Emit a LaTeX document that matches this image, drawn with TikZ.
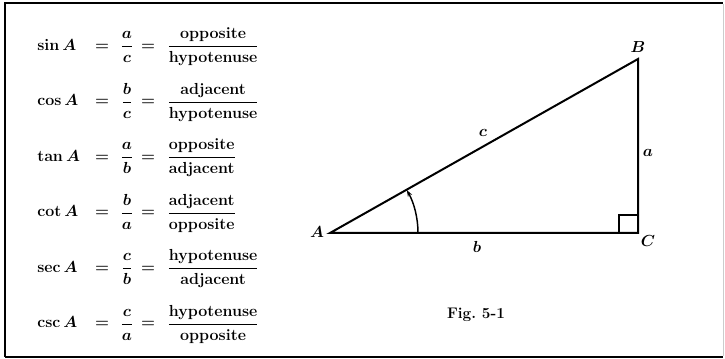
\documentclass[tikz,border=0pt]{standalone}
\usepackage{amsmath}
\usetikzlibrary{arrows.meta}
\begin{document}
\begin{tikzpicture}[x=0.75pt,y=-0.75pt,
  txt/.style={inner sep=0pt, font=\fontsize{12}{14}\selectfont\bfseries\boldmath},
  lbl/.style={inner sep=0pt, font=\fontsize{12.5}{14}\selectfont\bfseries\boldmath},
  figlbl/.style={inner sep=0pt, font=\fontsize{11.5}{13}\selectfont\bfseries},
  side/.style={line width=1.5pt, line join=miter},
  thin/.style={line width=1.1pt}]
\useasboundingbox (0,0) rectangle (725,359);
% frame
\draw[line width=2pt] (5,357) -- (5,3) -- (723,3);
\draw[line width=1.8pt] (5,357) -- (723,357);
\draw[black!20, line width=0.6pt] (723.5,4) -- (723.5,356);

% row 1
\node[txt, anchor=base west] (f1) at (37,50.5) {$\sin A$};
\node[txt, anchor=base] (e1) at (102,50.5) {$=$};
\node[txt, anchor=base] (r1) at (127,50.5) {$\dfrac{a}{c}$};
\node[txt, anchor=base] (q1) at (148,50.5) {$=$};
\node[txt, anchor=base west] (w1) at (167,50.5) {$\dfrac{\text{opposite}}{\text{hypotenuse}}$};
% row 2
\node[txt, anchor=base west] (f2) at (37,106) {$\cos A$};
\node[txt, anchor=base] (e2) at (102,106) {$=$};
\node[txt, anchor=base] (r2) at (127,106) {$\dfrac{b}{c}$};
\node[txt, anchor=base] (q2) at (148,106) {$=$};
\node[txt, anchor=base west] (w2) at (167,106) {$\dfrac{\text{adjacent}}{\text{hypotenuse}}$};
% row 3
\node[txt, anchor=base west] (f3) at (37,161.5) {$\tan A$};
\node[txt, anchor=base] (e3) at (102,161.5) {$=$};
\node[txt, anchor=base] (r3) at (127,161.5) {$\dfrac{a}{b}$};
\node[txt, anchor=base] (q3) at (148,161.5) {$=$};
\node[txt, anchor=base west] (w3) at (167,161.5) {$\dfrac{\text{opposite}}{\text{adjacent}}$};
% row 4
\node[txt, anchor=base west] (f4) at (37,217) {$\cot A$};
\node[txt, anchor=base] (e4) at (102,217) {$=$};
\node[txt, anchor=base] (r4) at (127,217) {$\dfrac{b}{a}$};
\node[txt, anchor=base] (q4) at (148,217) {$=$};
\node[txt, anchor=base west] (w4) at (167,217) {$\dfrac{\text{adjacent}}{\text{opposite}}$};
% row 5
\node[txt, anchor=base west] (f5) at (37,272.5) {$\sec A$};
\node[txt, anchor=base] (e5) at (102,272.5) {$=$};
\node[txt, anchor=base] (r5) at (127,272.5) {$\dfrac{c}{b}$};
\node[txt, anchor=base] (q5) at (148,272.5) {$=$};
\node[txt, anchor=base west] (w5) at (167,272.5) {$\dfrac{\text{hypotenuse}}{\text{adjacent}}$};
% row 6
\node[txt, anchor=base west] (f6) at (37,328) {$\csc A$};
\node[txt, anchor=base] (e6) at (102,328) {$=$};
\node[txt, anchor=base] (r6) at (127,328) {$\dfrac{c}{a}$};
\node[txt, anchor=base] (q6) at (148,328) {$=$};
\node[txt, anchor=base west] (w6) at (167,328) {$\dfrac{\text{hypotenuse}}{\text{opposite}}$};

% triangle
\coordinate (A) at (330,233);
\coordinate (B) at (638,59);
\coordinate (C) at (638,233);
\draw[side] (A) -- (B) -- (C) -- cycle;
\draw[thin] (619,233) -- (619,215) -- (638,215);
\draw[thin, -{Stealth[length=5pt,width=3.5pt]}] (418,233) arc[start angle=0, end angle=-29.2, radius=88];

\node[lbl] (lA) at (317,232) {$A$};
\node[lbl] (lB) at (638,47) {$B$};
\node[lbl] (lC) at (648,241) {$C$};
\node[lbl] (lc) at (483,133) {$c$};
\node[lbl] (la) at (648,153) {$a$};
\node[lbl] (lb) at (477,247) {$b$};
\node[figlbl] (fig) at (476,315) {Fig.\ 5-1};
\end{tikzpicture}
\end{document}
